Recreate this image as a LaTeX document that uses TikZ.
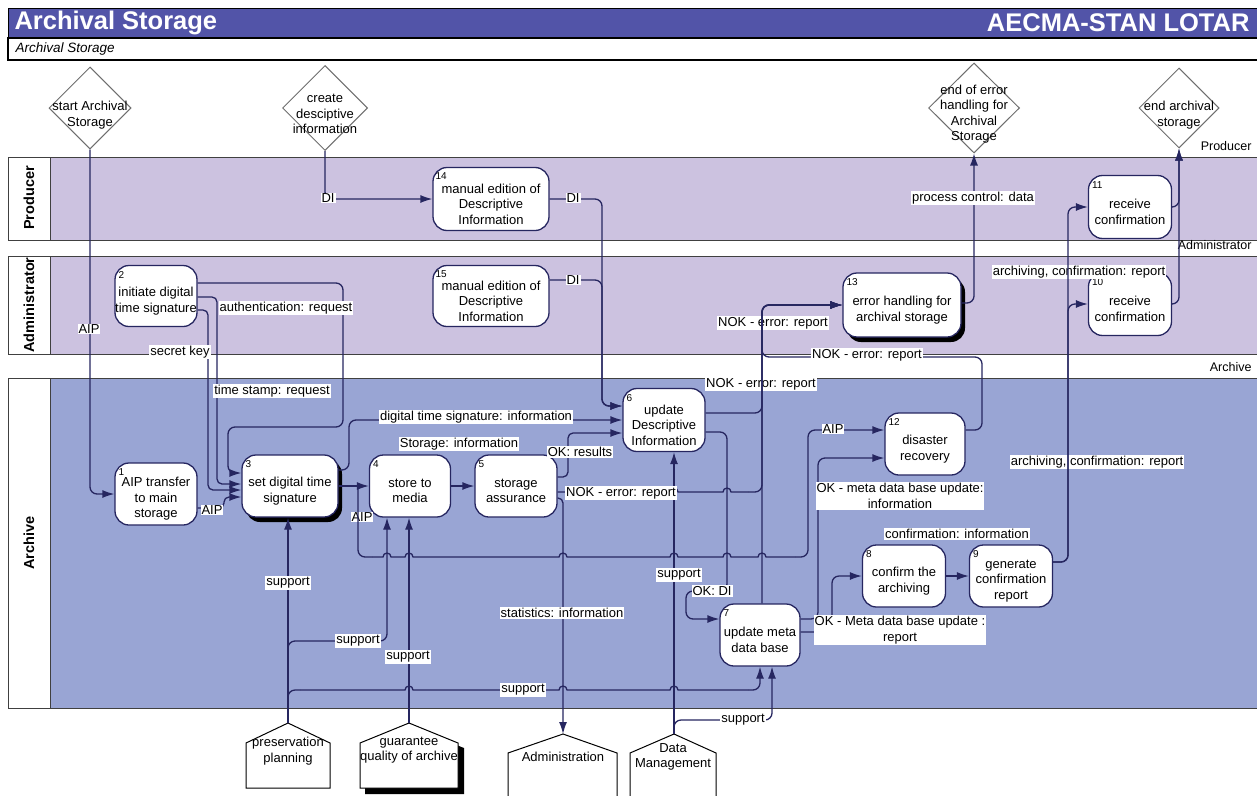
\documentclass[tikz,border=0pt]{standalone}
\usepackage{fontspec}
\setmainfont{Liberation Sans}
\usetikzlibrary{arrows.meta,shapes.geometric,shadows,calc}
\definecolor{titleblue}{RGB}{82,84,168}
\definecolor{lav}{RGB}{204,194,224}
\definecolor{archblue}{RGB}{153,165,212}
\definecolor{navy}{RGB}{38,38,96}
\definecolor{dgray}{RGB}{110,110,110}
\begin{document}
\begin{tikzpicture}[x=1pt,y=-1pt,
 f13/.style={font=\fontsize{13}{15.5}\selectfont},
 box/.style={draw=navy,fill=white,line width=1.3pt,rounded corners=14pt,minimum width=82pt,minimum height=62pt,inner sep=0pt},
 bt/.style={label={[f13,align=center,inner sep=0pt,yshift=-5pt]center:{#1}}},
 shad/.style={drop shadow={shadow xshift=4pt,shadow yshift=-5pt,opacity=1,fill=black}},
 num/.style={font=\fontsize{10}{10}\selectfont,inner sep=0pt,anchor=west},
 lbl/.style={fill=white,inner sep=1pt,f13,align=center},
 conn/.style={draw=navy,line width=1.3pt},
 rc/.style={rounded corners=7pt},
 arr/.style={conn,rc,-{Latex[length=12pt,width=8pt]}},
 dia/.style={diamond,draw=dgray,fill=white,line width=1pt,inner sep=0pt},
 dtxt/.style={f13,align=center,inner sep=0pt},
 lane/.style={draw=black!75,line width=1pt},
 hdr/.style={rotate=90,font=\bfseries\fontsize{14.5}{16}\selectfont},
 house/.style={draw=black,fill=white,line width=1pt},
]
\useasboundingbox (0,0) rectangle (1257,795);
\fill[white] (0,0) rectangle (1257,795);
% title
\draw[fill=titleblue,draw=black,line width=1pt] (8,8) rectangle (1262,38);
\draw[fill=white,draw=black,line width=1.2pt] (8,38) rectangle (1262,60);
\node[anchor=west,text=white,font=\bfseries\fontsize{25.5}{28}\selectfont] (title) at (11,23) {Archival Storage};
\node[anchor=east,text=white,font=\bfseries\fontsize{25.5}{28}\selectfont] (title2) at (1253,23) {AECMA-STAN LOTAR};
\node[anchor=west,font=\itshape\fontsize{13.5}{15}\selectfont] (sub) at (12,49) {Archival Storage};
% lanes
\draw[lane,fill=lav] (8,157) rectangle (1262,240);
\draw[lane,fill=lav] (8,256) rectangle (1262,354);
\draw[lane,fill=archblue] (8,378) rectangle (1262,708);
\draw[lane,fill=white] (8,157) rectangle (50,240);
\draw[lane,fill=white] (8,256) rectangle (50,354);
\draw[lane,fill=white] (8,378) rectangle (50,708);
\node[hdr] (hp) at (29,198) {Producer};
\node[hdr] (ha) at (29,305) {Administrator};
\node[hdr] (hr) at (29,543) {Archive};
\node[anchor=east,font=\fontsize{12.5}{14}\selectfont] (rp) at (1255,146) {Producer};
\node[anchor=east,font=\fontsize{12.5}{14}\selectfont] (ra) at (1255,245) {Administrator};
\node[anchor=east,font=\fontsize{12.5}{14}\selectfont] (rr) at (1255,367) {Archive};
% diamonds
\node[dia,minimum width=82pt,minimum height=82pt] (d1) at (90,108) {};
\node[dtxt] (t1) at (90,115) {start Archival\\Storage};
\node[dia,minimum width=85pt,minimum height=85pt] (d2) at (325,108) {};
\node[dtxt] (t2) at (325,114) {create\\desciptive\\information};
\node[dia,minimum width=91pt,minimum height=90pt] (d3) at (974,108) {};
\node[dtxt] (t3) at (974,114) {end of error\\handling for\\Archival\\Storage};
\node[dia,minimum width=80pt,minimum height=80pt] (d4) at (1179,108) {};
\node[dtxt] (t4) at (1179,115) {end archival\\storage};
% houses
\coordinate (pp) at (288,723);
\draw[house] (pp) -- (330,743) -- (330,788) -- (246,788) -- (246,743) -- cycle;
\node[dtxt] (tpp) at (288,751) {preservation\\planning};
\coordinate (gq) at (409,723);
\fill[black] (414,728) -- (464,748) -- (464,794) -- (365,794) -- (365,748) -- cycle;
\draw[house] (gq) -- (458,743) -- (458,788) -- (360,788) -- (360,743) -- cycle;
\node[dtxt] (tgq) at (409,750) {guarantee\\quality of archive};
\coordinate (adm) at (563,734);
\draw[house] (adm) -- (617,753) -- (617,800) -- (508,800) -- (508,753) -- cycle;
\node[dtxt] (tadm) at (563,757) {Administration};
\coordinate (dm) at (674,734);
\draw[house] (dm) -- (716,753) -- (716,800) -- (630,800) -- (630,753) -- cycle;
\node[dtxt] (tdm) at (673,757) {Data\\Management};
% process nodes
\node[box,bt={AIP transfer\\to main\\storage}] (n1) at (156,494) {};
\node[box,minimum height=61pt,bt={initiate digital\\time signature}] (n2) at (156,296) {};
\node[box,shad,minimum width=96pt,bt={set digital time\\signature}] (n3) at (290,486) {};
\node[box,minimum width=81pt,bt={store to\\media}] (n4) at (410,486) {};
\node[box,bt={storage\\assurance}] (n5) at (516,486) {};
\node[box,minimum height=63pt,bt={update\\Descriptive\\Information}] (n6) at (664,420) {};
\node[box,minimum width=80pt,bt={update meta\\data base}] (n7) at (760,635) {};
\node[box,minimum width=83pt,bt={confirm the\\archiving}] (n8) at (904,576) {};
\node[box,minimum width=83pt,bt={generate\\confirmation\\report}] (n9) at (1011,576) {};
\node[box,minimum width=83pt,minimum height=63pt,bt={receive\\confirmation}] (n10) at (1130,304) {};
\node[box,minimum width=83pt,minimum height=63pt,bt={receive\\confirmation}] (n11) at (1130,207) {};
\node[box,minimum width=80pt,bt={disaster\\recovery}] (n12) at (925,444) {};
\node[box,shad,minimum width=118pt,minimum height=64pt,bt={error handling for\\archival storage}] (n13) at (902,305) {};
\node[box,minimum width=116pt,minimum height=63pt,bt={manual edition of\\Descriptive\\Information}] (n14) at (491,199) {};
\node[box,minimum width=116pt,minimum height=61pt,bt={manual edition of\\Descriptive\\Information}] (n15) at (491,296) {};
\node[num] (k1) at ($(n1.north west)+(4,10)$) {1};
\node[num] (k2) at ($(n2.north west)+(4,10)$) {2};
\node[num] (k3) at ($(n3.north west)+(4,10)$) {3};
\node[num] (k4) at ($(n4.north west)+(4,10)$) {4};
\node[num] (k5) at ($(n5.north west)+(4,10)$) {5};
\node[num] (k6) at ($(n6.north west)+(4,10)$) {6};
\node[num] (k7) at ($(n7.north west)+(4,10)$) {7};
\node[num] (k8) at ($(n8.north west)+(4,10)$) {8};
\node[num] (k9) at ($(n9.north west)+(4,10)$) {9};
\node[num] (k10) at ($(n10.north west)+(4,10)$) {10};
\node[num] (k11) at ($(n11.north west)+(4,10)$) {11};
\node[num] (k12) at ($(n12.north west)+(4,10)$) {12};
\node[num] (k13) at ($(n13.north west)+(4,10)$) {13};
\node[num] (k14) at ($(n14.north west)+(3,9)$) {14};
\node[num] (k15) at ($(n15.north west)+(3,9)$) {15};
% labels lying under lines
\node[lbl] (lnok6) at (761,384) {NOK - error: report};
\node[lbl] (lnok13) at (773,323) {NOK - error: report};
\node[lbl] (larch1) at (1079,272) {archiving, confirmation: report};
\node[lbl] (larch2) at (1097,462) {archiving, confirmation: report};
\node[lbl] (laip3) at (362,517) {AIP};
% connectors
\draw[arr] (d1.south) |- (n1.west);
\draw[arr,rounded corners=5pt] ($(n1.east)+(0,14)$) -- (224,508) -- (224,497) -- ($(n3.west)+(0,11)$);
\draw[arr,rounded corners=5pt] ($(n2.east)+(0,14)$) -- (208,310) -- (208,490) -- ($(n3.west)+(0,4)$);
\draw[arr,rounded corners=5pt] ($(n2.east)+(0,1)$) -- (217,297) -- (217,484) -- ($(n3.west)+(0,-2)$);
\draw[arr] ($(n2.east)+(0,-13)$) -- (343,283) -- (343,427) -- (228,427) -- (228,473) -- ($(n3.west)+(0,-13)$);
\draw[arr] (n3.east) -- (n4.west);
\coordinate (j34) at (358,486);
\draw[conn,rc] (j34) -- (358,557) -- (372,557);
\draw[conn] (372,557) -- (383,557) arc[start angle=180,end angle=0,radius=4pt] -- (405,557) arc[start angle=180,end angle=0,radius=4pt] -- (559,557) arc[start angle=180,end angle=0,radius=4pt] -- (670,557) arc[start angle=180,end angle=0,radius=4pt] -- (723,557) arc[start angle=180,end angle=0,radius=4pt] -- (758,557) arc[start angle=180,end angle=0,radius=4pt] -- (795,557);
\draw[arr] (795,557) -- (808,557) -- (808,430) -- ($(n12.west)+(0,-14)$);
\draw[arr] ($(n3.east)+(0,-16)$) -- (349,470) -- (349,420) -- (n6.west);
\draw[arr] (n4.east) -- (n5.west);
\draw[arr,rounded corners=5pt] ($(n5.east)+(0,-9)$) -- (568,477) -- (568,433) -- ($(n6.west)+(0,13)$);
\draw[conn] ($(n5.east)+(0,6)$) -- (670,492) arc[start angle=180,end angle=0,radius=4pt] -- (723,492) arc[start angle=180,end angle=0,radius=4pt] -- (748,492);
\draw[arr] (748,492) -- (762,492) -- (762,305) -- (n13.west);
\draw[arr,rounded corners=5pt] ($(n5.east)+(0,12)$) -- (563,498) -- (adm);
\draw[arr] (n14.east) -- (602,199) -- (602,406) -- ($(n6.west)+(0,-14)$);
\draw[arr] ($(n15.east)+(0,-16)$) -- (602,280) -- (602,406) -- ($(n6.west)+(0,-14)$);
\draw[arr] (d2.south) |- (n14.west);
\draw[arr] ($(n6.east)+(0,-7)$) -- (762,413) -- (762,305) -- (n13.west);
\draw[arr] ($(n6.east)+(0,12)$) -- (727,432) -- (727,591) -- (686,591) -- (686,619) -- ($(n7.west)+(0,-16)$);
\draw[arr] ($(n7.north)+(2,0)$) -- (762,305) -- (n13.west);
\draw[arr] ($(n12.east)+(0,-14)$) -- (982,430) -- (982,357) -- (762,357) -- (762,305) -- (n13.west);
\draw[arr] ($(n13.east)+(0,-2)$) -- (974,303) -- (d3.south);
\draw[arr] ($(n7.east)+(0,-16)$) -- (818,619) -- (818,458) -- ($(n12.west)+(0,14)$);
\draw[arr] ($(n7.east)+(0,-3)$) -- (832,632) -- (832,576) -- (n8.west);
\draw[arr] (n8.east) -- (n9.west);
\draw[arr] ($(n9.east)+(0,-14)$) -- (1068,562) -- (1068,304) -- (n10.west);
\draw[arr] ($(n9.east)+(0,-14)$) -- (1068,562) -- (1068,207) -- (n11.west);
\draw[arr] (n10.east) -- (1179,304) -- (d4.south);
\draw[arr] (n11.east) -- (1179,207) -- (d4.south);
\draw[arr] (pp) -- (pp |- n3.south);
\draw[arr] (pp) -- (288,641) -- (387,641) -- ($(n4.south)+(-23,0)$);
\draw[arr] (gq) -- (gq |- n4.south);
\draw[conn,rc] (pp) -- (288,690) -- (300,690);
\draw[conn] (300,690) -- (405,690) arc[start angle=180,end angle=0,radius=4pt] -- (559,690) arc[start angle=180,end angle=0,radius=4pt] -- (670,690) arc[start angle=180,end angle=0,radius=4pt] -- (748,690);
\draw[arr] (748,690) -- (760,690) -- (n7.south);
\draw[arr] (dm) -- (dm |- n6.south);
\draw[arr] (dm) -- (674,720) -- (772,720) -- ($(n7.south)+(12,0)$);
% labels on top
\node[lbl] (laip1) at (89,329) {AIP};
\node[lbl] (laip2) at (212,510) {AIP};
\node[lbl] (lsk) at (180,352) {secret key};
\node[lbl] (lts) at (272,391) {time stamp: request};
\node[lbl] (lauth) at (286,308) {authentication: request};
\node[lbl] (ldts) at (476,417) {digital time signature: information};
\node[lbl] (lstor) at (459,444) {Storage: information};
\node[lbl] (lok) at (580,452) {OK: results};
\node[lbl] (lnok5) at (621,493) {NOK - error: report};
\node[lbl] (lstat) at (562,613) {statistics: information};
\node[lbl] (ldi0) at (328,198) {DI};
\node[lbl] (ldi14) at (573,198) {DI};
\node[lbl] (ldi15) at (573,280) {DI};
\node[lbl] (lnok12) at (867,355) {NOK - error: report};
\node[lbl] (lpc) at (973,198) {process control: data};
\node[lbl] (laip4) at (833,429) {AIP};
\node[lbl] (lokmi) at (900,496) {OK - meta data base update:\\information};
\node[lbl] (lokmr) at (900,630) {OK - Meta data base update :\\report};
\node[lbl] (lci) at (957,534) {confirmation: information};
\node[lbl] (lokdi) at (712,591) {OK: DI};
\node[lbl] (ls1) at (288,583) {support};
\node[lbl] (ls2) at (358,641) {support};
\node[lbl] (ls3) at (408,657) {support};
\node[lbl] (ls4) at (523,690) {support};
\node[lbl] (ls5) at (679,575) {support};
\node[lbl] (ls6) at (743,720) {support};
\end{tikzpicture}
\end{document}
